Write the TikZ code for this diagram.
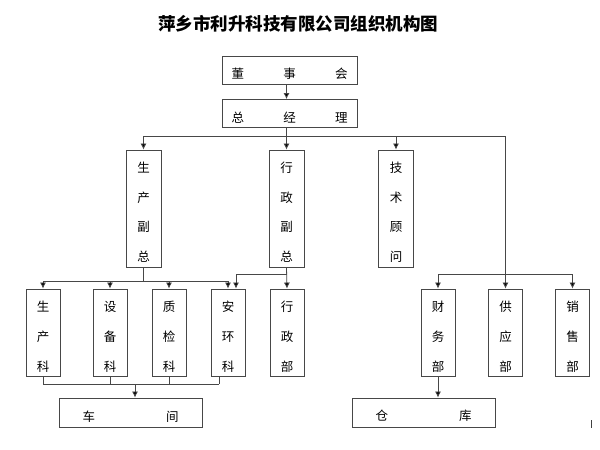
\documentclass[tikz,border=0pt]{standalone}
\usepackage{fontspec}
\newfontfamily\cjk{Noto Sans CJK SC}
\usetikzlibrary{calc,arrows.meta}

\colorlet{linegray}{black!72}
\tikzset{
  box/.style={draw=linegray, line width=0.9pt, inner sep=0pt, font=\cjk\fontsize{12.5}{30}\selectfont},
  widebox/.style={box, minimum width=135, minimum height=28},
  lowbox/.style={box, minimum width=143, minimum height=29},
  tallbox/.style={box, minimum width=35, minimum height=117, align=center, font=\cjk\fontsize{12.5}{29.5}\selectfont},
  deptbox/.style={box, minimum width=34, minimum height=87, align=center},
  link/.style={draw=linegray, line width=0.8pt},
  arr/.style={link, -{Latex[length=6pt,width=6pt,fill=black]}}
}
\newcommand{\topgap}{\rule{0pt}{18pt}}

\begin{document}
\begin{tikzpicture}[x=1pt, y=-1pt]
  \useasboundingbox (0,0) rectangle (600,450);
  \node[font=\cjk\bfseries\fontsize{17.5}{17.5}\selectfont] (title) at (298,24) {萍乡市利升科技有限公司组织机构图};

  \node[widebox] (dsh) at (289.5,70) {\topgap\makebox[116pt][s]{董\hfill 事\hfill 会}};
  \node[widebox] (zjl) at (289.5,113.5) {\topgap\makebox[116pt][s]{总\hfill 经\hfill 理}};

  \node[tallbox] (scfz) at (143.5,208.5) {\topgap 生\\产\\副\\总};
  \node[tallbox] (xzfz) at (286.5,208.5) {\topgap 行\\政\\副\\总};
  \node[tallbox] (jsgw) at (396,208.5) {\topgap 技\\术\\顾\\问};

  \node[deptbox] (sck) at (43,332.5) {\topgap 生\\产\\科};
  \node[deptbox] (sbk) at (110,332.5) {\topgap 设\\备\\科};
  \node[deptbox] (zjk) at (169,332.5) {\topgap 质\\检\\科};
  \node[deptbox] (ahk) at (228,332.5) {\topgap 安\\环\\科};
  \node[deptbox] (xzb) at (287,332.5) {\topgap 行\\政\\部};
  \node[deptbox] (cwb) at (438,332.5) {\topgap 财\\务\\部};
  \node[deptbox] (gyb) at (505.5,332.5) {\topgap 供\\应\\部};
  \node[deptbox] (xsb) at (572.5,332.5) {\topgap 销\\售\\部};

  \node[lowbox] (cj) at (130.5,412.5) {\topgap\makebox[96pt][s]{车\hfill 间}};
  \node[lowbox] (ck) at (423.5,412.5) {\topgap\makebox[96pt][s]{仓\hfill 库}};

  \draw[arr] (dsh.south -| xzfz.north) -- (zjl.north -| xzfz.north);
  \draw[link] (zjl.south -| xzfz.north) -- (xzfz.north |- 0,136);
  \draw[link] (scfz.north |- 0,136) -- (gyb.north |- 0,136);
  \foreach \n in {scfz,xzfz,jsgw,gyb}
    \draw[arr] (\n.north |- 0,136) -- (\n.north);

  \draw[link] (scfz.south) -- (scfz.south |- 0,281);
  \draw[link] (sck.north |- 0,281) -- (ahk.north |- 0,281);
  \foreach \n in {sck,sbk,zjk,ahk}
    \draw[arr] (\n.north |- 0,281) -- (\n.north);

  \draw[arr] (xzfz.south) -- (xzb.north);
  \draw[arr] (xzfz.south |- 0,274) -| ($(ahk.north)+(8,0)$);

  \draw[link] (cwb.north |- 0,274) -- (xsb.north |- 0,274);
  \draw[arr] (cwb.north |- 0,274) -- (cwb.north);
  \draw[arr] (xsb.north |- 0,274) -- (xsb.north);

  \coordinate (hub) at (135,384);
  \coordinate (ahkfoot) at ($(ahk.south)+(-9,0)$);
  \foreach \n in {sck,sbk,zjk}
    \draw[link] (\n.south) -- (\n.south |- hub);
  \draw[link] (ahkfoot) -- (ahkfoot |- hub);
  \draw[link] (sck.south |- hub) -- (ahkfoot |- hub);
  \draw[arr] (hub) -- (hub |- cj.north);

  \draw[arr] (cwb.south) -- (cwb.south |- ck.north);

  \draw[black!75, line width=1pt] (591,420) -- (591,428);
\end{tikzpicture}
\end{document}
